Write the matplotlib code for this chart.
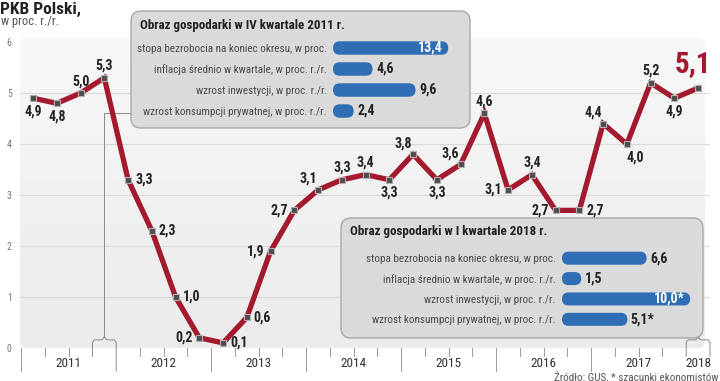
import matplotlib
matplotlib.use('Agg')
import matplotlib.pyplot as plt
import numpy as np
from matplotlib import font_manager
from matplotlib.patches import FancyBboxPatch
from matplotlib.transforms import IdentityTransform

# narrowest family we can find
have = {f.name for f in font_manager.fontManager.ttflist}
base = 'DejaVu Sans'
for cand in ['Roboto Condensed', 'Liberation Sans Narrow', 'Open Sans Condensed', 'Roboto', 'Liberation Sans']:
    if cand in have:
        base = cand
        break
plt.rcParams['font.family'] = [base, 'DejaVu Sans']

## Data: PKB r/r, kwartalnie 2011 Q1 - 2018 Q1
years = ['2011', '2012', '2013', '2014', '2015', '2016', '2017', '2018']
gdp = [4.9, 4.8, 5.0, 5.3,
       3.3, 2.3, 1.0, 0.2,
       0.1, 0.6, 1.9, 2.7,
       3.1, 3.3, 3.4, 3.3,
       3.8, 3.3, 3.6, 4.6,
       3.1, 3.4, 2.7, 2.7,
       4.4, 4.0, 5.2, 4.9,
       5.1]
# where the value label goes: a=above, b=below, l=left, r=right, al/br=corners
label_pos = ['b', 'b', 'a', 'a',
             'r', 'r', 'r', 'l',
             'r', 'r', 'l', 'l',
             'al', 'a', 'a', 'b',
             'al', 'b', 'al', 'a',
             'l', 'a', 'l', 'r',
             'al', 'br', 'a', 'b',
             'big']
highlight = [3, 28]   # IV kw. 2011 and I kw. 2018

row_names = ['stopa bezrobocia na koniec okresu, w proc.',
             'inflacja średnio w kwartale, w proc. r./r.',
             'wzrost inwestycji, w proc. r./r.',
             'wzrost konsumpcji prywatnej, w proc. r./r.']
box1_title = 'Obraz gospodarki w IV kwartale 2011 r.'
box1_vals = [13.4, 4.6, 9.6, 2.4]
box1_marks = ['', '', '', '']
box2_title = 'Obraz gospodarki w I kwartale 2018 r.'
box2_vals = [6.6, 1.5, 10.0, 5.1]
box2_marks = ['', '', '*', '*']

RED = '#a31a2e'
BLUE = '#2f6db5'
W, H = 720, 381


def fmt(v):
    return ('%.1f' % v).replace('.', ',')


def px(x, y):
    # pixel from top-left -> figure fraction
    return x / W, 1 - y / H


fig = plt.figure(figsize=(W / 100, H / 100), dpi=100)

#%% main chart
ax = fig.add_axes([20 / W, 33 / H, 690 / W, 311 / H])
ax.patch.set_visible(False)
for s in ax.spines.values():
    s.set_visible(False)
n = len(gdp)
xs = np.arange(n)

# panel with soft gradient
panel = FancyBboxPatch((20, 33), 685, 311, boxstyle='round,pad=0,rounding_size=7',
                       transform=IdentityTransform(), fc='none', ec='none')
ax.add_patch(panel)
grad = np.linspace(0, 1, 100).reshape(-1, 1)
im = ax.imshow(grad, extent=(-0.55, n - 0.5, 0, 6.1), aspect='auto', origin='upper',
               cmap=matplotlib.colors.LinearSegmentedColormap.from_list('g', ['#f8f8f8', '#ebebeb']),
               zorder=0)
im.set_clip_path(panel)
ax.set_xlim(-0.55, n - 0.5)
ax.set_ylim(0, 6.1)

for g in range(1, 6):
    ax.axhline(g, color='#d9d9d9', lw=0.8, zorder=0.5)

ax.set_yticks(range(0, 7))
ax.set_yticklabels([str(v) for v in range(0, 7)], fontsize=7, color='#777')
ax.tick_params(axis='y', length=0, pad=6)
ax.set_xticks([])

# quarter ticks and year labels
year_starts = [4 * k - 0.5 for k in range(len(years))]
legs = []
for q in highlight:
    legs += [q - 0.5, q + 0.5]
for b in np.arange(-0.5, n, 1.0):
    major = b in year_starts and b < n - 1.5
    if b in legs:
        continue
    ax.plot([b, b], [0, -0.45 if major else -0.16], color='#9a9a9a', lw=0.7, clip_on=False)
for k, yr in enumerate(years):
    q0 = 4 * k
    q1 = min(4 * k + 3, n - 1)
    ax.text((q0 + q1) / 2, -0.3, yr, ha='center', va='center', fontsize=9.5, color='#333')

# brackets under highlighted quarters
top = 0.16
for q in highlight:
    x0, x1 = q - 0.5, q + 0.5
    lb = -0.45 if (x0 in year_starts and x0 < n - 1.5) else -0.16
    rb = -0.45 if (x1 in year_starts and x1 < n - 1.5) else -0.16
    ax.plot([x0, x0, x0 + 0.08, q - 0.1, q, q + 0.1, x1 - 0.08, x1, x1],
            [lb, top - 0.05, top, top, top + 0.06, top, top, top - 0.05, rb],
            color='#8a8a8a', lw=0.7, clip_on=False, zorder=1)

# connectors from brackets to the boxes
p = ax.transData.transform((highlight[0], top + 0.06))
ax.plot([p[0], p[0], 131], [p[1], H - 113, H - 113], color='#8a8a8a', lw=0.7,
        transform=IdentityTransform(), clip_on=False, zorder=1)
p = ax.transData.transform((highlight[1], top + 0.06))
ax.plot([p[0], p[0]], [p[1], H - 338], color='#8a8a8a', lw=0.7,
        transform=IdentityTransform(), clip_on=False, zorder=1)

# boxes
for (bx, by, bw, bh) in [(131, 11, 339, 117), (341, 218, 362, 120)]:
    ax.add_patch(FancyBboxPatch((bx, H - by - bh), bw, bh,
                                boxstyle='round,pad=0,rounding_size=10',
                                transform=IdentityTransform(), fc='#dadada', ec='#a8a8a8',
                                lw=1, clip_on=False, zorder=1.5))

# GDP line
ax.plot(xs, gdp, color=RED, lw=3.8, solid_joinstyle='miter', zorder=3)
ax.plot(xs, gdp, ls='none', marker='s', ms=4.5, mfc='#4d4d4d', mec='#b0b0b0', mew=0.8, zorder=4)

offsets = {'a': ((0, 3.5), 'center', 'bottom'),
           'b': ((0, -4.5), 'center', 'top'),
           'l': ((-4.5, 0), 'right', 'center'),
           'r': ((5, 0), 'left', 'center'),
           'al': ((-1, 3), 'right', 'bottom'),
           'br': ((0, -5), 'left', 'top')}
for x, v, pos in zip(xs, gdp, label_pos):
    if pos == 'big':
        ax.annotate(fmt(v), (x, v), xytext=(-4, 7), textcoords='offset points',
                    ha='center', va='bottom', fontsize=21, fontweight='bold', color=RED, zorder=5)
        continue
    off, ha, va = offsets[pos]
    ax.annotate(fmt(v), (x, v), xytext=off, textcoords='offset points',
                ha=ha, va=va, fontsize=10, fontweight='bold', color='#222', zorder=5)

#%% inset bar panels


def inset(rect, vals, marks, title, title_xy, xmax):
    iax = fig.add_axes(rect)
    iax.patch.set_visible(False)
    for s in iax.spines.values():
        s.set_visible(False)
    iax.set_xlim(0, xmax)
    iax.set_ylim(len(vals) - 0.5, -0.5)
    bars = iax.barh(range(len(vals)), vals, height=0.64, color=BLUE)
    bb = iax.get_window_extent()
    xpx = bb.width / xmax
    ypx = bb.height / len(vals)
    for b in bars:
        b.set_visible(False)
        hpx = b.get_height() * ypx
        r = hpx / 2 / xpx
        iax.add_patch(FancyBboxPatch((b.get_x(), b.get_y()), b.get_width(), b.get_height(),
                                     boxstyle='round,pad=0,rounding_size=%f' % r,
                                     mutation_aspect=xpx / ypx, fc=BLUE, ec='none'))
    for i, (v, m) in enumerate(zip(vals, marks)):
        if v == max(vals):
            iax.annotate(fmt(v) + m, (v, i), xytext=(-4, 0), textcoords='offset points',
                         ha='right', va='center', fontsize=10, fontweight='bold', color='white')
        else:
            iax.annotate(fmt(v) + m, (v, i), xytext=(2.5, 0), textcoords='offset points',
                         ha='left', va='center', fontsize=10, fontweight='bold', color='#222')
    iax.set_xticks([])
    iax.set_yticks(range(len(vals)))
    iax.set_yticklabels(row_names, fontsize=8, color='#4a4a4a')
    iax.tick_params(axis='y', length=0, pad=4.5)
    fig.text(*px(*title_xy), title, fontsize=9.4, fontweight='bold', color='#222',
             ha='left', va='center')
    return iax


inset([333 / W, (H - 121.5) / H, 137.6 / W, 84 / H], box1_vals, box1_marks,
      box1_title, (140, 25), 16)
inset([562 / W, (H - 329.5) / H, 141 / W, 81.5 / H], box2_vals, box2_marks,
      box2_title, (350, 232), 11)

#%% titles
fig.text(*px(0, 9), 'PKB Polski,', fontsize=12.5, fontweight='bold', color='#222',
         ha='left', va='center')
fig.text(*px(1, 22), 'w proc. r./r.', fontsize=9, color='#555', ha='left', va='center')
fig.text(*px(719, 376), 'Źródło: GUS, * szacunki ekonomistów', fontsize=8, color='#555',
         ha='right', va='center')

fig.savefig('out.png', dpi=100)
